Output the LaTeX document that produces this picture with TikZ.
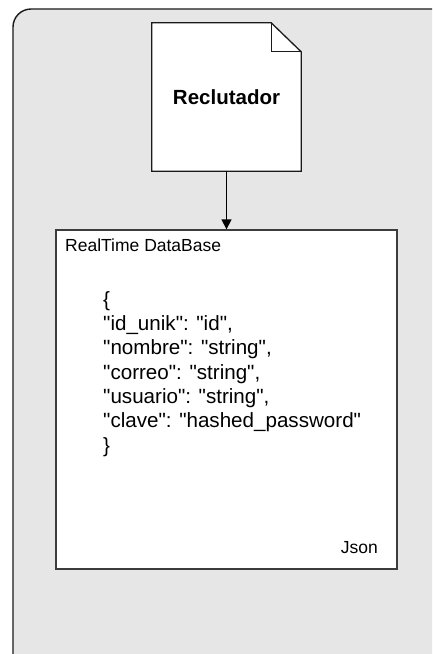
\documentclass[tikz,border=0pt]{standalone}
\usepackage{fontspec}
\setmainfont{Liberation Sans}[Ligatures=TeXOff]
\usetikzlibrary{arrows.meta}
\definecolor{panelgray}{HTML}{E6E6E6}
\definecolor{edgegray}{HTML}{1A1A1A}
\tikzset{
  panel/.style={draw=edgegray, fill=panelgray, line width=1.4pt, rounded corners=18pt},
  docshape/.style={draw=edgegray, fill=white, line width=1.3pt, line join=miter},
  storebox/.style={draw=edgegray!85, fill=white, line width=1.3pt, minimum width=341pt, minimum height=339pt, inner sep=0pt},
  label/.style={inner sep=0pt, font=\fontsize{17.5}{21}\selectfont},
  jsonlines/.style={inner sep=0pt, align=left, font=\fontsize{20.6}{24.3}\selectfont},
  flow/.style={draw=black, line width=1.3pt, -{Triangle[length=10pt, width=10pt]}}
}
\begin{document}
\begin{tikzpicture}[x=1pt, y=-1pt]
  \useasboundingbox (0,0) rectangle (432,654);
  \begin{scope}
    \clip (0,0) rectangle (432,654);
    \fill[white] (0,0) rectangle (432,654);
    % outer container, running past the right and bottom edges
    \path[panel] (13,9) rectangle (450,672);
  \end{scope}

  % document with folded corner
  \node[minimum width=149pt, minimum height=148pt, inner sep=0pt] (doc) at (226.5,97) {};
  \path[docshape] (doc.north west) -- ([xshift=-30pt]doc.north east)
    -- ([yshift=-29pt]doc.north east) -- (doc.south east) -- (doc.south west) -- cycle;
  \draw[docshape, fill=none] ([xshift=-30pt]doc.north east) -- ([xshift=-30pt, yshift=-29pt]doc.north east)
    -- ([yshift=-29pt]doc.north east);
  \node[inner sep=0pt, anchor=base, font=\bfseries\fontsize{20.5}{24}\selectfont] (doctitle) at (226.5,104.5) {Reclutador};

  % database store
  \node[storebox] (db) at (226.5,399.5) {};
  \node[label, anchor=base west] (dbtitle) at (65,251) {RealTime DataBase};
  % the base anchor of a multi-line node sits on its last line
  \node[jsonlines, anchor=base west] (schema) at (103,452) {\{\\
"id\_unik": "id",\\
"nombre": "string",\\
"correo": "string",\\
"usuario": "string",\\
"clave": "hashed\_password"\\
\}};
  \node[label, anchor=base east] (fmt) at (378,553.5) {Json};

  % connector
  \draw[flow] (doc.south) -- (db.north);
\end{tikzpicture}
\end{document}
